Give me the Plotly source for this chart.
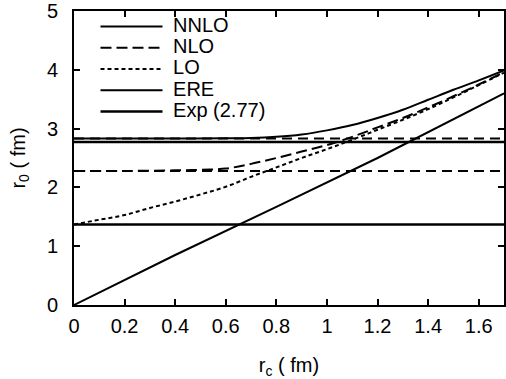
import plotly.graph_objects as go

# ---- data ----
rc_nnlo = [0, 0.2, 0.4, 0.6, 0.7, 0.8, 0.9, 1.0, 1.1, 1.2, 1.3, 1.4, 1.5, 1.6, 1.7]
r0_nnlo = [2.83, 2.83, 2.83, 2.835, 2.84, 2.86, 2.90, 2.97, 3.06, 3.18, 3.32, 3.49, 3.66, 3.82, 3.99]

rc_nlo = [0, 0.2, 0.4, 0.5, 0.6, 0.7, 0.8, 0.9, 1.0, 1.1, 1.2, 1.3, 1.4, 1.5, 1.6, 1.7]
r0_nlo = [2.28, 2.28, 2.29, 2.30, 2.32, 2.40, 2.50, 2.61, 2.72, 2.86, 3.02, 3.18, 3.36, 3.55, 3.75, 3.96]

rc_lo = [0, 0.1, 0.2, 0.3, 0.4, 0.5, 0.6, 0.7, 0.8, 0.9, 1.0, 1.1, 1.2, 1.3, 1.4, 1.5, 1.6, 1.7]
r0_lo = [1.37, 1.45, 1.53, 1.65, 1.76, 1.88, 2.01, 2.18, 2.34, 2.50, 2.65, 2.81, 2.98, 3.15, 3.33, 3.53, 3.74, 3.95]

rc_ere = [0, 0.4, 0.8, 1.2, 1.7]
r0_ere = [0, 0.85, 1.67, 2.50, 3.60]

rc_span = [0, 1.7]
r0_exp = 2.77
r0_h_nnlo = 2.83
r0_h_nlo = 2.28
r0_h_lo = 1.37

xticks = [0, 0.2, 0.4, 0.6, 0.8, 1, 1.2, 1.4, 1.6]
yticks = [0, 1, 2, 3, 4, 5]

FONT = "Liberation Sans, Arial, sans-serif"
BLACK = "black"
FS = 20


def big(t):
    return f'<span style="font-size:{FS}px">\u00a0{t}</span>'


fig = go.Figure()

# horizontal reference lines (no legend)
fig.add_trace(go.Scatter(x=rc_span, y=[r0_h_nnlo] * 2, mode="lines", showlegend=False,
                         line=dict(color=BLACK, width=2, dash="10px,6px")))
fig.add_trace(go.Scatter(x=rc_span, y=[r0_h_nlo] * 2, mode="lines", showlegend=False,
                         line=dict(color=BLACK, width=2, dash="10px,6px")))
fig.add_trace(go.Scatter(x=rc_span, y=[r0_h_lo] * 2, mode="lines", showlegend=False,
                         line=dict(color=BLACK, width=2.5)))

fig.add_trace(go.Scatter(x=rc_nnlo, y=r0_nnlo, mode="lines", name=big("NNLO"),
                         line=dict(color=BLACK, width=2, shape="spline")))
fig.add_trace(go.Scatter(x=rc_nlo, y=r0_nlo, mode="lines", name=big("NLO"),
                         line=dict(color=BLACK, width=2, dash="11px,5px", shape="spline")))
fig.add_trace(go.Scatter(x=rc_lo, y=r0_lo, mode="lines", name=big("LO"),
                         line=dict(color=BLACK, width=2, dash="4px,3px", shape="spline")))
fig.add_trace(go.Scatter(x=rc_ere, y=r0_ere, mode="lines", name=big("ERE"),
                         line=dict(color=BLACK, width=2)))
fig.add_trace(go.Scatter(x=rc_span, y=[r0_exp] * 2, mode="lines", name=big("Exp (2.77)"),
                         line=dict(color=BLACK, width=2.5)))

axis_common = dict(
    showgrid=False, zeroline=False, showline=True, linecolor=BLACK, linewidth=2,
    mirror="ticks", ticks="inside", ticklen=6, tickwidth=1.5, tickcolor=BLACK,
    tickfont=dict(family=FONT, size=FS, color=BLACK),
)

fig.update_layout(
    width=506, height=379,
    margin=dict(l=74, r=0, t=11, b=74),
    paper_bgcolor="white", plot_bgcolor="white",
    font=dict(family=FONT, size=FS, color=BLACK),
    xaxis=dict(range=[0, 1.7], tickvals=xticks, ticktext=[f"{v:g}" for v in xticks],
               title=dict(text="r<sub>c</sub> ( fm)", font=dict(size=FS), standoff=22),
               ticklabelstandoff=2, **axis_common),
    yaxis=dict(range=[0, 5], tickvals=yticks,
               title=dict(text="r<sub>0</sub> ( fm)", font=dict(size=FS), standoff=16),
               ticklabelstandoff=10, **axis_common),
    legend=dict(x=0.05, y=1.0, xanchor="left", yanchor="top",
                bgcolor="rgba(0,0,0,0)", font=dict(family=FONT, size=14),
                itemwidth=62, tracegroupgap=0),
)

fig.write_html("out.html")
